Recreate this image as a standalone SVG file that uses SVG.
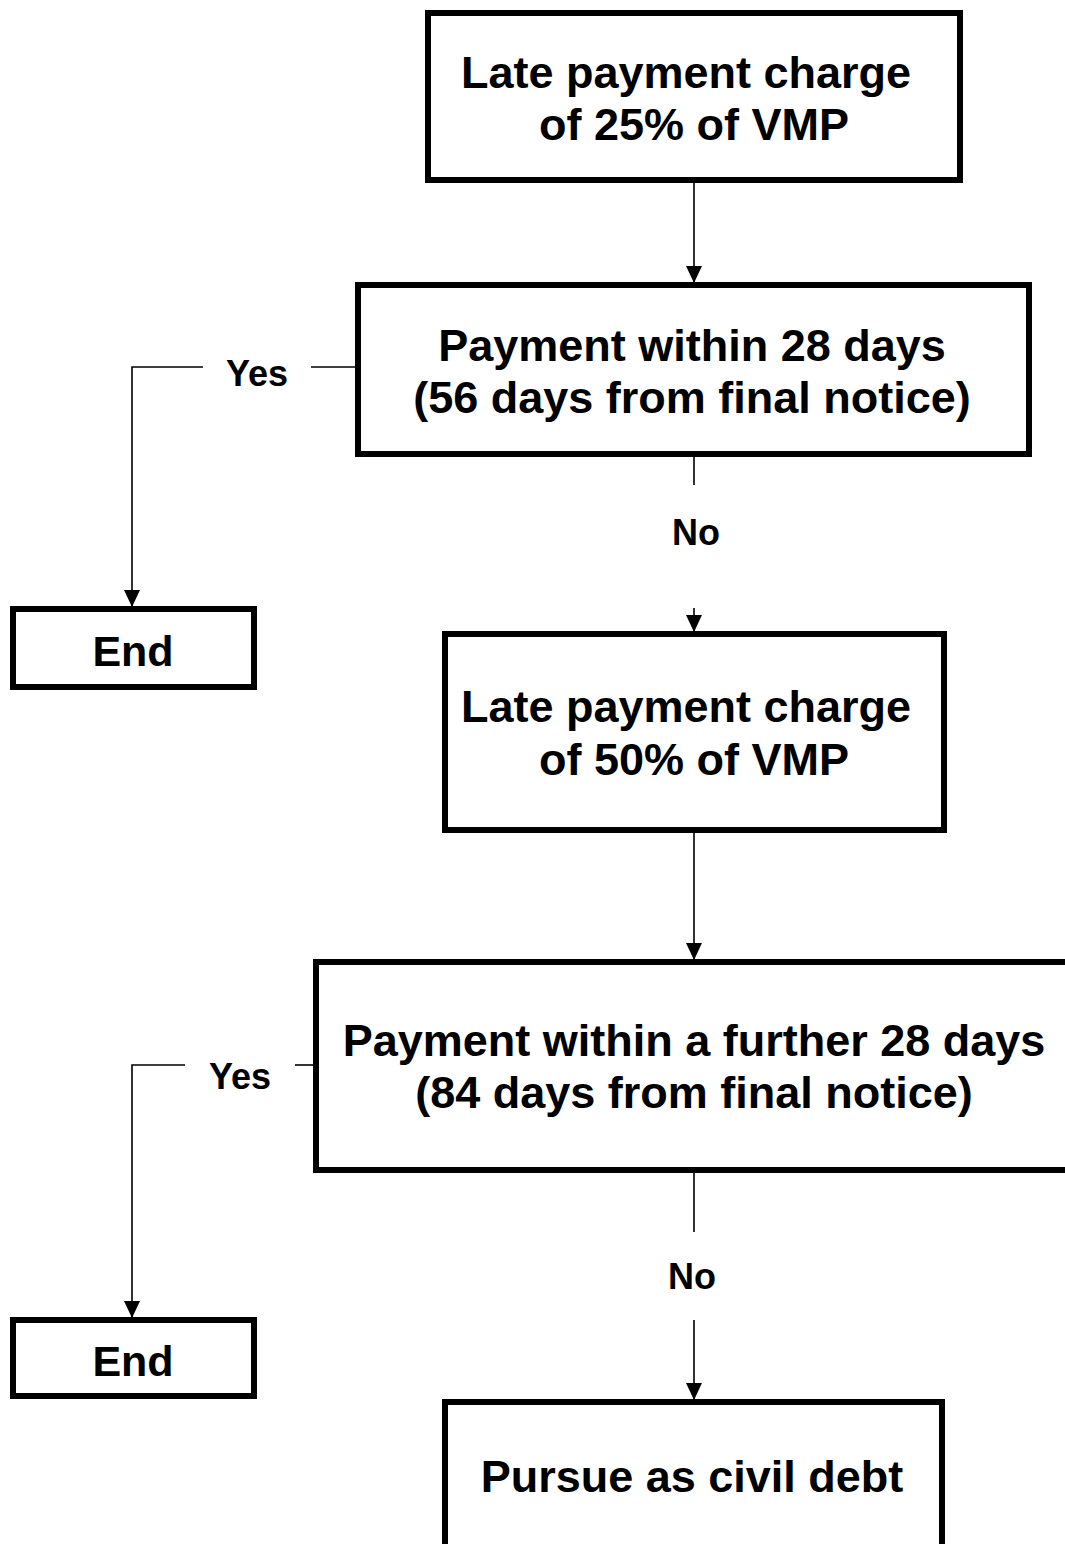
<svg xmlns="http://www.w3.org/2000/svg" width="1065" height="1544" viewBox="0 0 1065 1544">
  <style>
    .box { fill: #fff; stroke: #000; stroke-width: 6; }
    .txt { font-family: "Liberation Sans", Arial, sans-serif; font-weight: bold; font-size: 45px; fill: #000; text-anchor: middle; }
    .end { font-size: 43px; }
    .lbl { font-family: "Liberation Sans", Arial, sans-serif; font-weight: bold; font-size: 36px; fill: #000; text-anchor: middle; }
    .wire { fill: none; stroke: #000; stroke-width: 1.6; }
  </style>
  <defs>
    <!-- solid triangular arrowhead, tip on the end of the path -->
    <marker id="head" markerUnits="userSpaceOnUse" markerWidth="17" markerHeight="16" refX="17" refY="8" orient="auto" viewBox="0 0 17 16">
      <path d="M0,0 L17,8 L0,16 Z" fill="#000"/>
    </marker>
  </defs>

  <rect width="1065" height="1544" fill="#fff"/>

  <g id="connectors">
    <path class="wire" d="M694,182 V283" marker-end="url(#head)"/>
    <path class="wire" d="M355,367 H311"/>
    <path class="wire" d="M203,367 H132 V607" marker-end="url(#head)"/>
    <path class="wire" d="M694,456 V485"/>
    <path class="wire" d="M694,608 V632" marker-end="url(#head)"/>
    <path class="wire" d="M694,833 V960" marker-end="url(#head)"/>
    <path class="wire" d="M313,1065 H295"/>
    <path class="wire" d="M185,1065 H132 V1318" marker-end="url(#head)"/>
    <path class="wire" d="M694,1173 V1232"/>
    <path class="wire" d="M694,1320 V1400" marker-end="url(#head)"/>
    <text class="lbl" x="257" y="386">Yes</text>
    <text class="lbl" x="696" y="545">No</text>
    <text class="lbl" x="240" y="1089">Yes</text>
    <text class="lbl" x="692" y="1289">No</text>
  </g>

  <g id="charge25">
    <rect class="box" x="428" y="13" width="532" height="167"/>
    <text class="txt" x="686" y="88">Late payment charge</text>
    <text class="txt" x="694" y="140">of 25% of VMP</text>
  </g>

  <g id="pay28">
    <rect class="box" x="358" y="285" width="671" height="169"/>
    <text class="txt" x="692" y="361">Payment within 28 days</text>
    <text class="txt" x="692" y="413">(56 days from final notice)</text>
  </g>

  <g id="end1">
    <rect class="box" x="13" y="609" width="241" height="78"/>
    <text class="txt end" x="133" y="666">End</text>
  </g>

  <g id="charge50">
    <rect class="box" x="445" y="634" width="499" height="196"/>
    <text class="txt" x="686" y="722">Late payment charge</text>
    <text class="txt" x="694" y="775">of 50% of VMP</text>
  </g>

  <g id="pay84">
    <rect class="box" x="316" y="962" width="800" height="208"/>
    <text class="txt" x="694" y="1056">Payment within a further 28 days</text>
    <text class="txt" x="694" y="1108">(84 days from final notice)</text>
  </g>

  <g id="end2">
    <rect class="box" x="13" y="1320" width="241" height="76"/>
    <text class="txt end" x="133" y="1376">End</text>
  </g>

  <g id="civil">
    <rect class="box" x="445" y="1402" width="497" height="200"/>
    <text class="txt" x="692" y="1492">Pursue as civil debt</text>
  </g>
</svg>
